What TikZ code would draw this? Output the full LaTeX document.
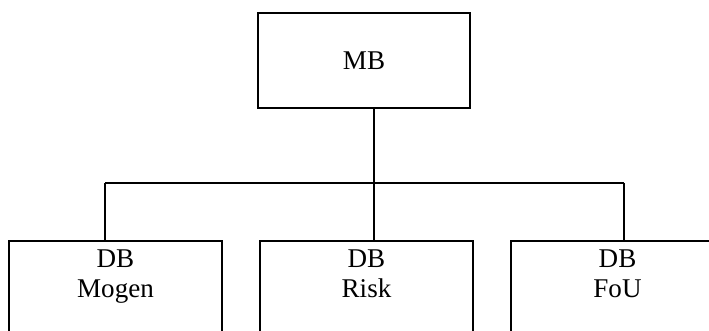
\documentclass[tikz,border=0pt]{standalone}
\usepackage{fontspec}
\setmainfont{Liberation Serif}
\usepackage{tikz}
\usetikzlibrary{positioning}
\tikzset{
every picture/.style={line width=1.5pt}
}
\tikzset{
  orgbox/.style={draw, rectangle, minimum width=159.5pt, inner sep=0pt},
  orgtext/.style={align=center, inner sep=0pt, font=\fontsize{20.3}{22.5}\selectfont}
}

\begin{document}
\begin{tikzpicture}[x=0.75pt,y=-0.75pt]
    \clip (0,0) rectangle (709,331);
    % top box
    \node[orgbox, orgtext, minimum height=71.25pt] (mb) at (364,60.5) {MB};
    % lower row, cut off by the page edge
    \node[orgbox, anchor=north, minimum height=90pt] (mogen) at (115.5,240) {};
    \node[orgbox, anchor=north, minimum height=90pt] (risk) at (366.5,240) {};
    \node[orgbox, anchor=north, minimum height=90pt] (fou) at (617.5,240) {};
    \node[orgtext, below=6.5pt of mogen.north] (mogentext) {DB\\Mogen};
    \node[orgtext, below=6.5pt of risk.north] (risktext) {DB\\Risk};
    \node[orgtext, below=6.5pt of fou.north] (foutext) {DB\\FoU};
    % connectors
    \coordinate (hub) at (374,183);
    \coordinate (leftend) at (105,183);
    \coordinate (rightend) at (624,183);
    \draw (mb.south -| hub) -- (hub);
    \draw (leftend) -- (rightend);
    \draw (leftend) -- (leftend |- mogen.north);
    \draw (hub) -- (hub |- risk.north);
    \draw (rightend) -- (rightend |- fou.north);
  \end{tikzpicture}
\end{document}
